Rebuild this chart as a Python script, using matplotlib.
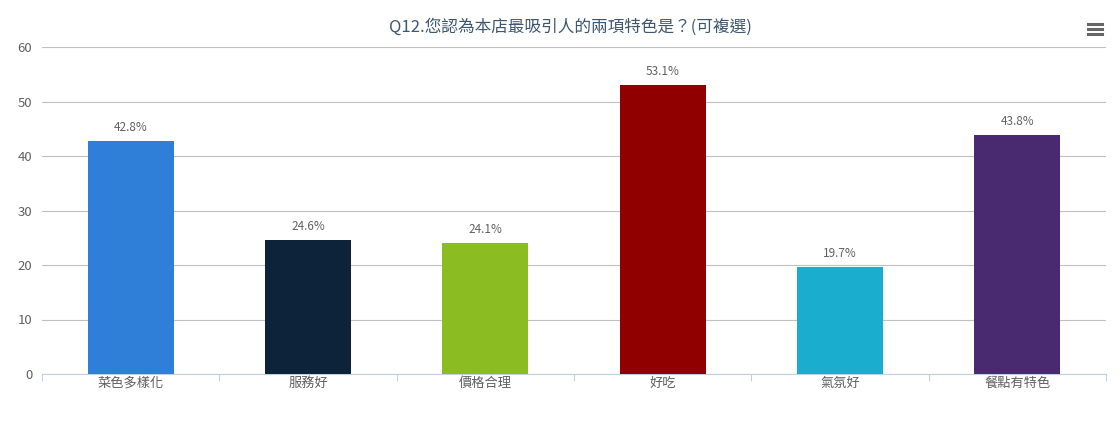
import matplotlib.pyplot as plt
from matplotlib.lines import Line2D

plt.rcParams['font.family'] = ['Noto Sans CJK TC', 'DejaVu Sans']

categories = ['菜色多樣化', '服務好', '價格合理', '好吃', '氣氛好', '餐點有特色']
values = [42.8, 24.6, 24.1, 53.1, 19.7, 43.8]
colors = ['#2F7ED8', '#0D233A', '#8BBC21', '#910000', '#1AADCE', '#492970']
title = 'Q12.您認為本店最吸引人的兩項特色是？(可複選)'

W, H = 1120, 422
fig = plt.figure(figsize=(W / 100, H / 100), dpi=100)
ax = fig.add_axes([42 / W, 1 - 374 / H, (1106 - 42) / W, (374 - 47) / H])

x = list(range(len(categories)))
ax.bar(x, values, width=0.485, color=colors, zorder=3)
for xi, v in zip(x, values):
    ax.annotate(f'{v}%', (xi, v), xytext=(0, 5), textcoords='offset points',
                ha='center', va='bottom', fontsize=8.5, color='#606060')

ax.set_xlim(-0.5, len(categories) - 0.5)
ax.set_ylim(0, 60)
ax.set_yticks(range(0, 61, 10))
ax.yaxis.grid(True, color='#C0C0C0', linewidth=0.8, zorder=0)
ax.tick_params(axis='y', length=0, labelsize=9.5, labelcolor='#606060', pad=7)

ax.set_xticks(x)
ax.set_xticklabels(categories)
ax.tick_params(axis='x', length=0, labelsize=9.5, labelcolor='#606060', pad=2)
ax.set_xticks([i - 0.5 for i in range(len(categories) + 1)], minor=True)
ax.tick_params(axis='x', which='minor', length=5, color='#C0D0E0', width=0.8)

for s in ['top', 'right', 'left']:
    ax.spines[s].set_visible(False)
ax.spines['bottom'].set_color('#C0D0E0')
ax.spines['bottom'].set_linewidth(0.8)

fig.text(570 / W, 1 - 27 / H, title, ha='center', va='center',
         fontsize=12, color='#3E576F')

# menu icon
for yy in [24, 29, 34]:
    fig.add_artist(Line2D([1088 / W, 1102 / W], [1 - yy / H, 1 - yy / H],
                          color='#666666', linewidth=2.2))

fig.savefig('out.png', dpi=100)
